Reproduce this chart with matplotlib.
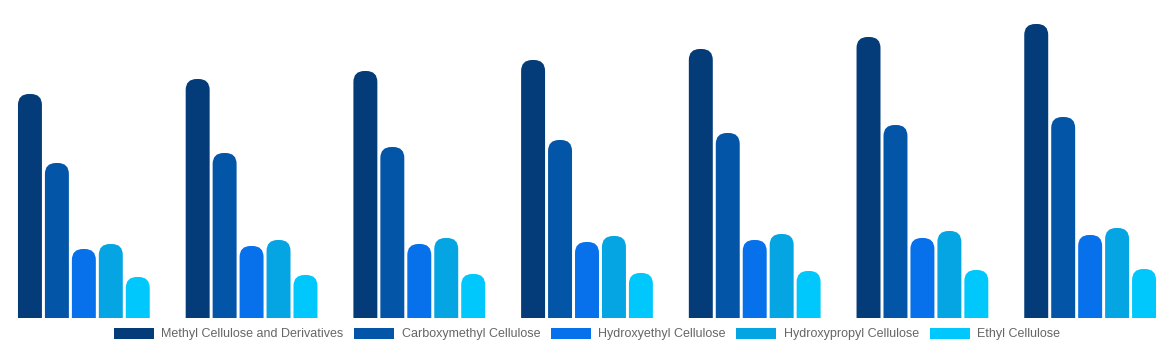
import numpy as np
import matplotlib as mpl
mpl.use("Agg")
import matplotlib.pyplot as plt
from matplotlib.path import Path
from matplotlib.patches import PathPatch, Patch

plt.rcParams['font.family'] = ['Liberation Sans', 'DejaVu Sans']

years = ["2018", "2019", "2020", "2021", "2022", "2023", "2024"]
series = ["Methyl Cellulose and Derivatives", "Carboxymethyl Cellulose",
          "Hydroxyethyl Cellulose", "Hydroxypropyl Cellulose", "Ethyl Cellulose"]
colors = ["#033c79", "#0356a7", "#0671ea", "#05a5e3", "#00c8fd"]

methyl = [22.4, 23.9, 24.7, 25.8, 26.9, 28.1, 29.4]
carboxymethyl = [15.5, 16.5, 17.1, 17.8, 18.5, 19.3, 20.1]
hydroxyethyl = [6.9, 7.2, 7.4, 7.6, 7.8, 8.0, 8.3]
hydroxypropyl = [7.4, 7.8, 8.0, 8.2, 8.4, 8.7, 9.0]
ethyl = [4.1, 4.3, 4.4, 4.5, 4.7, 4.8, 4.9]
values = [methyl, carboxymethyl, hydroxyethyl, hydroxypropyl, ethyl]

fig = plt.figure(figsize=(11.74, 3.5), dpi=100)
ax = fig.add_axes([0, 32 / 350, 1, 318 / 350])
ax.set_xlim(-0.5, 6.5)
ax.set_ylim(0, 31.8)
ax.axis("off")

x = np.arange(len(years))
width = 24 / 168
step = 27 / 168


def round_top(ax, rect, rad_px=11):
    # swap a plain bar for one with rounded top corners
    x0, y0 = rect.get_x(), rect.get_y()
    w, h = rect.get_width(), rect.get_height()
    inv = ax.transData.inverted()
    p0 = inv.transform((0, 0))
    p1 = inv.transform((rad_px, rad_px))
    rx, ry = p1[0] - p0[0], p1[1] - p0[1]
    rx = min(rx, w / 2)
    ry = min(ry, h)
    x1, y1 = x0 + w, y0 + h
    verts = [(x0, y0), (x0, y1 - ry), (x0, y1), (x0 + rx, y1),
             (x1 - rx, y1), (x1, y1), (x1, y1 - ry), (x1, y0), (x0, y0)]
    codes = [Path.MOVETO, Path.LINETO, Path.CURVE3, Path.CURVE3,
             Path.LINETO, Path.CURVE3, Path.CURVE3, Path.LINETO, Path.CLOSEPOLY]
    patch = PathPatch(Path(verts, codes), facecolor=rect.get_facecolor(),
                      edgecolor="none")
    rect.remove()
    ax.add_patch(patch)


for i, (vals, c) in enumerate(zip(values, colors)):
    bars = ax.bar(x + (i - 2) * step, vals, width, color=c)
    for r in list(bars):
        round_top(ax, r)

handles = [Patch(facecolor=c, edgecolor="none") for c in colors]
fig.legend(handles, series, loc="center", bbox_to_anchor=(0.5, 16 / 350),
           ncol=5, frameon=False, fontsize=9, labelcolor="#666666",
           handlelength=3.2, handleheight=1.0, handletextpad=0.6,
           columnspacing=0.85)

fig.savefig("out.png", dpi=100)
